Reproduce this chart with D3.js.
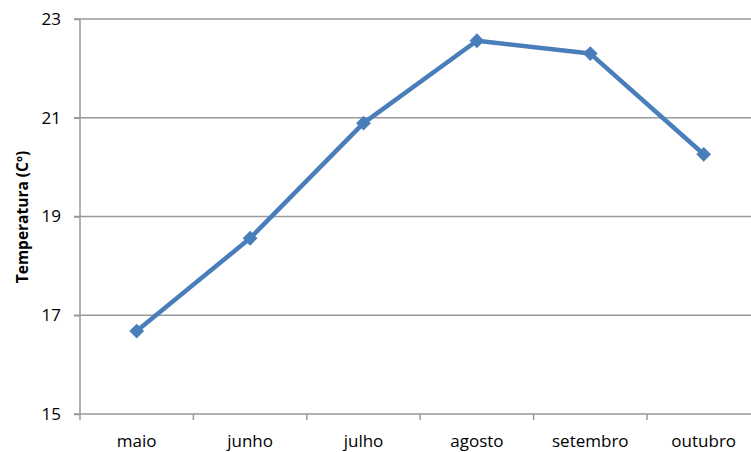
<!DOCTYPE html>
<html><head><meta charset="utf-8">
<script src="https://cdn.jsdelivr.net/npm/d3@7"></script>
<style>body{margin:0;background:#fff}svg{display:block}text{font-family:"Open Sans",sans-serif}</style>
</head><body><svg id="c" width="751" height="452"></svg>
<script>
const categories = ["maio","junho","julho","agosto","setembro","outubro"];
const temperatures = [16.68, 18.56, 20.89, 22.56, 22.30, 20.26];
const yTicks = [15, 17, 19, 21, 23];
const yTitle = "Temperatura (Cº)";

const svg = d3.select("#c");
const pLeft = 80, pRight = 760.4, pTop = 19, pBottom = 414;
const x = d3.scaleBand().domain(categories).range([pLeft, pRight]);
const y = d3.scaleLinear().domain([15, 23]).range([pBottom, pTop]);
const grid = "#999";

// gridlines
svg.append("g").selectAll("line").data(yTicks.slice(1)).join("line")
  .attr("x1", pLeft - 6).attr("x2", 751)
  .attr("y1", d => y(d)).attr("y2", d => y(d))
  .attr("stroke", grid).attr("stroke-width", 1.5);

// y axis
const ya = svg.append("g").attr("transform", `translate(${pLeft},0)`)
  .call(d3.axisLeft(y).tickValues(yTicks).tickSize(6).tickPadding(13).tickFormat(d3.format("d")));
ya.select(".domain").attr("stroke", grid).attr("stroke-width", 1.5).attr("d", `M-6,${pBottom}H0V${pTop}`);
ya.selectAll(".tick line").attr("stroke", grid).attr("stroke-width", 1.5);
ya.selectAll(".tick text").attr("font-size", 17).attr("fill", "#000").attr("font-family", "Open Sans");

// x axis
const xa = svg.append("g").attr("transform", `translate(0,${pBottom})`)
  .call(d3.axisBottom(x).tickSize(0).tickPadding(21));
xa.select(".domain").attr("stroke", grid).attr("stroke-width", 1.5).attr("d", `M${pLeft},0H751`);
xa.selectAll(".tick text").attr("font-size", 17).attr("fill", "#000").attr("font-family", "Open Sans");
// category boundary ticks
const bounds = categories.map(c => x(c)).concat([x(categories[categories.length-1]) + x.bandwidth()]);
svg.append("g").selectAll("line").data(bounds.filter(b => b <= 751)).join("line")
  .attr("x1", d => d).attr("x2", d => d).attr("y1", pBottom).attr("y2", pBottom + 6)
  .attr("stroke", grid).attr("stroke-width", 1.5);

// y title
svg.append("text").attr("transform", `translate(28,217) rotate(-90)`)
  .attr("text-anchor", "middle").attr("font-size", 15.5).attr("font-weight", "bold")
  .attr("fill", "#000").text(yTitle);

// line
const cx = c => x(c) + x.bandwidth() / 2;
svg.append("path").datum(temperatures)
  .attr("fill", "none").attr("stroke", "#4a7ebb").attr("stroke-width", 4.5).attr("stroke-linejoin", "round")
  .attr("d", d3.line().x((d, i) => cx(categories[i])).y(d => y(d)));

svg.append("g").selectAll("path").data(temperatures).join("path")
  .attr("transform", (d, i) => `translate(${cx(categories[i])},${y(d)})`)
  .attr("d", d3.symbol(d3.symbolDiamond2, 140)())
  .attr("fill", "#4a7ebb");
</script></body></html>
